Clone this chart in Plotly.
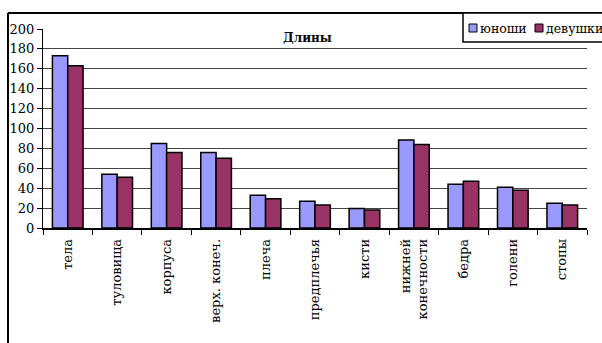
import plotly.graph_objects as go

categories = ["тела", "туловища", "корпуса", "верх. конеч.", "плеча", "предплечья",
              "кисти", "нижней<br>конечности", "бедра", "голени", "стопы"]
boys = [173, 54, 85, 76, 33, 27, 19.5, 88.5, 44, 41, 25]
girls = [163, 51, 76, 70, 29.5, 23, 18, 84, 47, 38, 23]
series_names = ["юноши", "девушки"]
series_colors = ["#9999FF", "#993366"]
y_ticks = list(range(0, 201, 20))

SERIF = "DejaVu Serif"

fig = go.Figure()
for vals, name, col in zip([boys, girls], series_names, series_colors):
    fig.add_trace(go.Bar(x=categories, y=vals, name=name, showlegend=False,
                         marker=dict(color=col, line=dict(color="black", width=1.5))))

L, R, T, B = 43, 15, 29, 115
PW, PH = 602 - L - R, 343 - T - B

def px_x(x):
    return (x - L) / PW

def px_y(y):
    return (343 - B - y) / PH

fig.update_layout(
    width=602, height=343,
    margin=dict(l=L, r=R, t=T, b=B, autoexpand=False),
    paper_bgcolor="white", plot_bgcolor="white",
    barmode="group", bargap=0.38, bargroupgap=0,
    font=dict(family=SERIF, color="black"),
)
fig.update_yaxes(range=[0, 200], tickvals=y_ticks, ticks="outside", ticklen=5,
                 tickcolor="black", showline=True, linecolor="black", linewidth=1,
                 showgrid=True, gridcolor="#444444", gridwidth=1.2,
                 tickfont=dict(family=SERIF, size=13), zeroline=False)
fig.update_xaxes(ticks="outside", tickson="boundaries", ticklen=5, tickcolor="black",
                 showline=True, linecolor="black", linewidth=1.5, tickangle=-90,
                 ticklabelstandoff=4,
                 tickfont=dict(family=SERIF, size=13), showgrid=False)

# Chart title
fig.add_annotation(text="<b>Длины</b>", x=px_x(307), y=px_y(38), xref="paper", yref="paper",
                   xanchor="center", yanchor="middle", showarrow=False,
                   font=dict(family=SERIF, size=12))
# Outer chart border (top and left)
fig.add_shape(type="line", xref="paper", yref="paper",
              x0=px_x(8), x1=px_x(610), y0=px_y(13), y1=px_y(13),
              line=dict(color="black", width=2))
fig.add_shape(type="line", xref="paper", yref="paper",
              x0=px_x(8), x1=px_x(8), y0=px_y(13), y1=px_y(350),
              line=dict(color="black", width=2))

# Legend box (custom, compact like the reference)
fig.add_shape(type="rect", xref="paper", yref="paper",
              x0=px_x(463), x1=px_x(640), y0=px_y(13), y1=px_y(42),
              fillcolor="white", line=dict(color="black", width=1.5), layer="above")
leg_x = [469, 535]
for lx, name, col in zip(leg_x, series_names, series_colors):
    fig.add_shape(type="rect", xref="paper", yref="paper",
                  x0=px_x(lx), x1=px_x(lx + 8), y0=px_y(24), y1=px_y(32),
                  fillcolor=col, line=dict(color="black", width=1), layer="above")
    fig.add_annotation(text=name, x=px_x(lx + 9), y=px_y(28), xref="paper", yref="paper",
                       xanchor="left", yanchor="middle", showarrow=False,
                       font=dict(family=SERIF, size=12.5))

fig.write_html("out.html")
